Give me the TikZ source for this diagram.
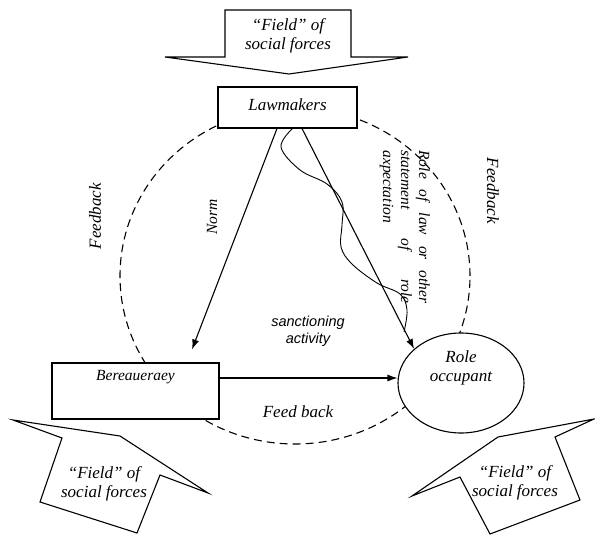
\documentclass[tikz,border=0pt]{standalone}
\usepackage{fontspec}
\setmainfont{Liberation Serif}
\newfontfamily\sansf{Liberation Sans}
\usetikzlibrary{arrows.meta,shapes.geometric}
\begin{document}
\begin{tikzpicture}[x=1pt,y=-1pt,
  line width=1.1pt,
  box/.style={draw, fill=white, inner sep=0},
  lbl/.style={font=\fontsize{17}{18.5}\selectfont\itshape, align=center, inner sep=0},
  slbl/.style={font=\fontsize{15.5}{18}\selectfont\itshape, align=center, inner sep=0},
  fieldshape/.style={draw, fill=white, line join=miter},
  arr/.style={-{Latex[length=10pt,width=7pt]}},
  fb/.style={dash pattern=on 8pt off 5pt}]
\useasboundingbox (0,0) rectangle (595,535);
% feedback loop
\draw[fb] (295,276) ellipse [x radius=175pt, y radius=168pt];
% fields of social forces
\draw[fieldshape] (225,10) -- (351,10) -- (351,57) -- (408,57) -- (289,74) -- (165,57) -- (225,57) -- cycle;
\node[lbl] (f1) at (288,36) {“Field” of\\social forces};
\draw[fieldshape] (13,420) -- (62,438) -- (40,502) -- (137,533) -- (160,475) -- (208,493) -- (120,436) -- cycle;
\node[lbl] (f2) at (104,484) {“Field” of\\social forces};
\draw[fieldshape] (594,419) -- (555,437) -- (580,500) -- (490,534) -- (460,477) -- (412,496) -- (498,437) -- cycle;
\node[lbl] (f3) at (515,483) {“Field” of\\social forces};
% main nodes
\node[box, minimum width=139pt, minimum height=41pt] (law) at (287.5,107.5) {};
\node[lbl] (lawt) at (287.5,105) {Lawmakers};
\node[box, minimum width=167pt, minimum height=56pt] (bur) at (135.5,391) {};
\node[slbl] (burt) at (135.5,377) {Bereaueraey};
\node[box, ellipse, minimum width=126pt, minimum height=100pt] (ro) at (461,383) {};
\node[lbl] (rot) at (461,368) {Role\\occupant};
% connectors
\draw[arr] ([xshift=-10.5pt]law.south) -- ([xshift=56.5pt,yshift=13pt]bur.north);
\draw[arr] ([xshift=14.5pt]law.south) -- (ro.144);
\draw[arr] ([yshift=13pt]bur.east) -- ([yshift=13pt]bur.east -| ro.west);
\draw[line width=0.9pt] plot[smooth, tension=0.6] coordinates {(293,128) (281,147) (300,170) (327,184) (342,202) (342,225) (341,247) (352,264) (377,283) (400,294) (407,310) (404,332)};
% labels
\node[slbl, rotate=90] (norm) at (212,217) {Norm};
\node[lbl, rotate=90] (fbl) at (95,216) {Feedback};
\node[lbl, rotate=-90] (fbr) at (493,191) {Feedback};
\node[slbl, rotate=-90, align=left] (rlaw) at (405,227) {\makebox[153pt][s]{Role of law or other}\\\makebox[153pt][s]{statement of role}\\axpectation};
\node[font=\sansf\itshape\fontsize{14.5}{17}\selectfont, align=center, inner sep=0] (sanc) at (308,331) {sanctioning\\activity};
\node[lbl] (fbb) at (298,412) {Feed back};
\end{tikzpicture}
\end{document}
